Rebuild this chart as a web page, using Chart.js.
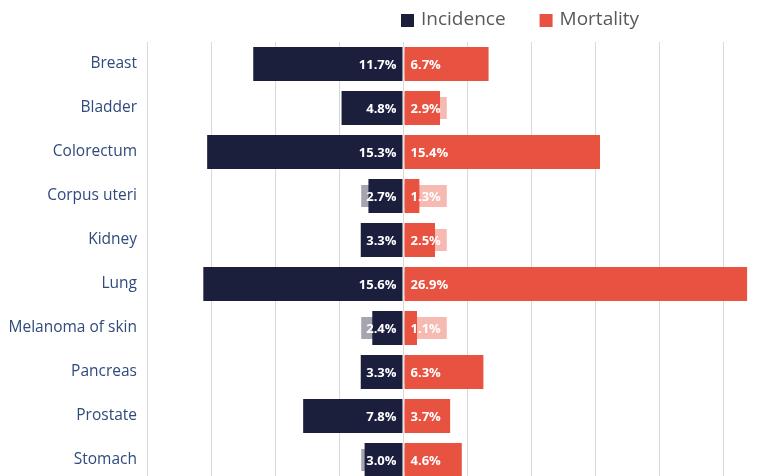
<!DOCTYPE html>
<html lang="en">
  <head>
    <meta charset="UTF-8" />
    <meta name="viewport" content="width=device-width, initial-scale=1.0" />
    <style>
      body {
        margin: 0;
        background-color: rgb(255, 255, 255);
        overflow: hidden;
      }

      canvas {
        display: block;
      }
    </style>
    <script src="https://cdn.jsdelivr.net/npm/chart.js"></script>
    <title>Incidence and Mortality</title>
  </head>

  <body>
    <canvas id="cancerChart" width="787" height="482"></canvas>

    <script>
      // values (percent)
      const cancers = [
        "Breast",
        "Bladder",
        "Colorectum",
        "Corpus uteri",
        "Kidney",
        "Lung",
        "Melanoma of skin",
        "Pancreas",
        "Prostate",
        "Stomach",
      ];
      const incidence = [11.7, 4.8, 15.3, 2.7, 3.3, 15.6, 2.4, 3.3, 7.8, 3.0];
      const mortality = [6.7, 2.9, 15.4, 1.3, 2.5, 26.9, 1.1, 6.3, 3.7, 4.6];

      const navy = "rgb(27, 31, 60)";
      const red = "rgb(232, 82, 64)";
      const navyFaded = "rgba(27, 31, 60, 0.4)";
      const redFaded = "rgba(232, 82, 64, 0.4)";

      // value labels with a faded box, next to the zero line
      const valueLabels = {
        id: "valueLabels",
        afterDatasetsDraw(chart) {
          const ctx = chart.ctx;
          ctx.save();
          ctx.font = "bold 13px 'Open Sans'";
          ctx.textBaseline = "middle";
          chart.data.datasets.forEach((ds, i) => {
            const meta = chart.getDatasetMeta(i);
            const left = ds.data[0] < 0;
            meta.data.forEach((bar, j) => {
              const txt = Math.abs(ds.data[j]).toFixed(1) + "%";
              const w = ctx.measureText(txt).width + 10;
              const base = bar.base;
              ctx.fillStyle = left ? navyFaded : redFaded;
              if (left) {
                ctx.fillRect(base - 1 - w, bar.y - 11, w, 22);
              } else {
                ctx.fillRect(base + 1, bar.y - 11, w + 2, 22);
              }
              ctx.fillStyle = "#fff";
              ctx.textAlign = left ? "right" : "left";
              ctx.fillText(txt, left ? base - 6 : base + 7, bar.y + 1);
            });
          });
          ctx.restore();
        },
      };

      // legend drawn by hand so it can sit off centre like the original
      const topLegend = {
        id: "topLegend",
        afterDraw(chart) {
          const ctx = chart.ctx;
          ctx.save();
          ctx.font = "19px 'Open Sans'";
          ctx.textBaseline = "middle";
          let x = 401;
          chart.data.datasets.forEach((ds) => {
            ctx.fillStyle = ds.backgroundColor;
            ctx.fillRect(x, 14, 13, 13);
            x += 20;
            ctx.fillStyle = "#595959";
            ctx.fillText(ds.label, x, 20);
            x += ctx.measureText(ds.label).width + 34;
          });
          ctx.restore();
        },
      };

      var ctx = document.getElementById("cancerChart").getContext("2d");
      var myChart = new Chart(ctx, {
        type: "bar",
        data: {
          labels: cancers,
          datasets: [
            {
              label: "Incidence",
              data: incidence.map((v) => -v),
              backgroundColor: navy,
            },
            {
              label: "Mortality",
              data: mortality,
              backgroundColor: red,
              borderColor: "#fff",
              borderWidth: { left: 1, right: 0, top: 0, bottom: 0 },
              borderSkipped: false,
            },
          ],
        },
        options: {
          indexAxis: "y",
          responsive: false,
          animation: false,
          layout: { padding: { top: 42, left: 0, right: 0, bottom: 0 } },
          datasets: {
            bar: { barPercentage: 0.775, categoryPercentage: 1 },
          },
          plugins: {
            legend: { display: false },
            tooltip: { enabled: false },
          },
          scales: {
            x: {
              stacked: true,
              min: -20,
              max: 30,
              ticks: { display: false, stepSize: 5 },
              grid: { color: "#d9d9d9", drawTicks: false },
              border: { display: false },
              afterFit: (s) => {
                s.height = 0;
              },
            },
            y: {
              stacked: true,
              grid: { display: false, drawTicks: false },
              border: { display: false },
              ticks: {
                color: "#2f4a7c",
                padding: 10,
                font: { family: "'Open Sans'", size: 15.5 },
              },
              afterFit: (s) => {
                s.width = 147;
                s.paddingTop = 0;
                s.paddingBottom = 0;
              },
            },
          },
        },
        plugins: [valueLabels, topLegend],
      });
    </script>
  </body>
</html>
